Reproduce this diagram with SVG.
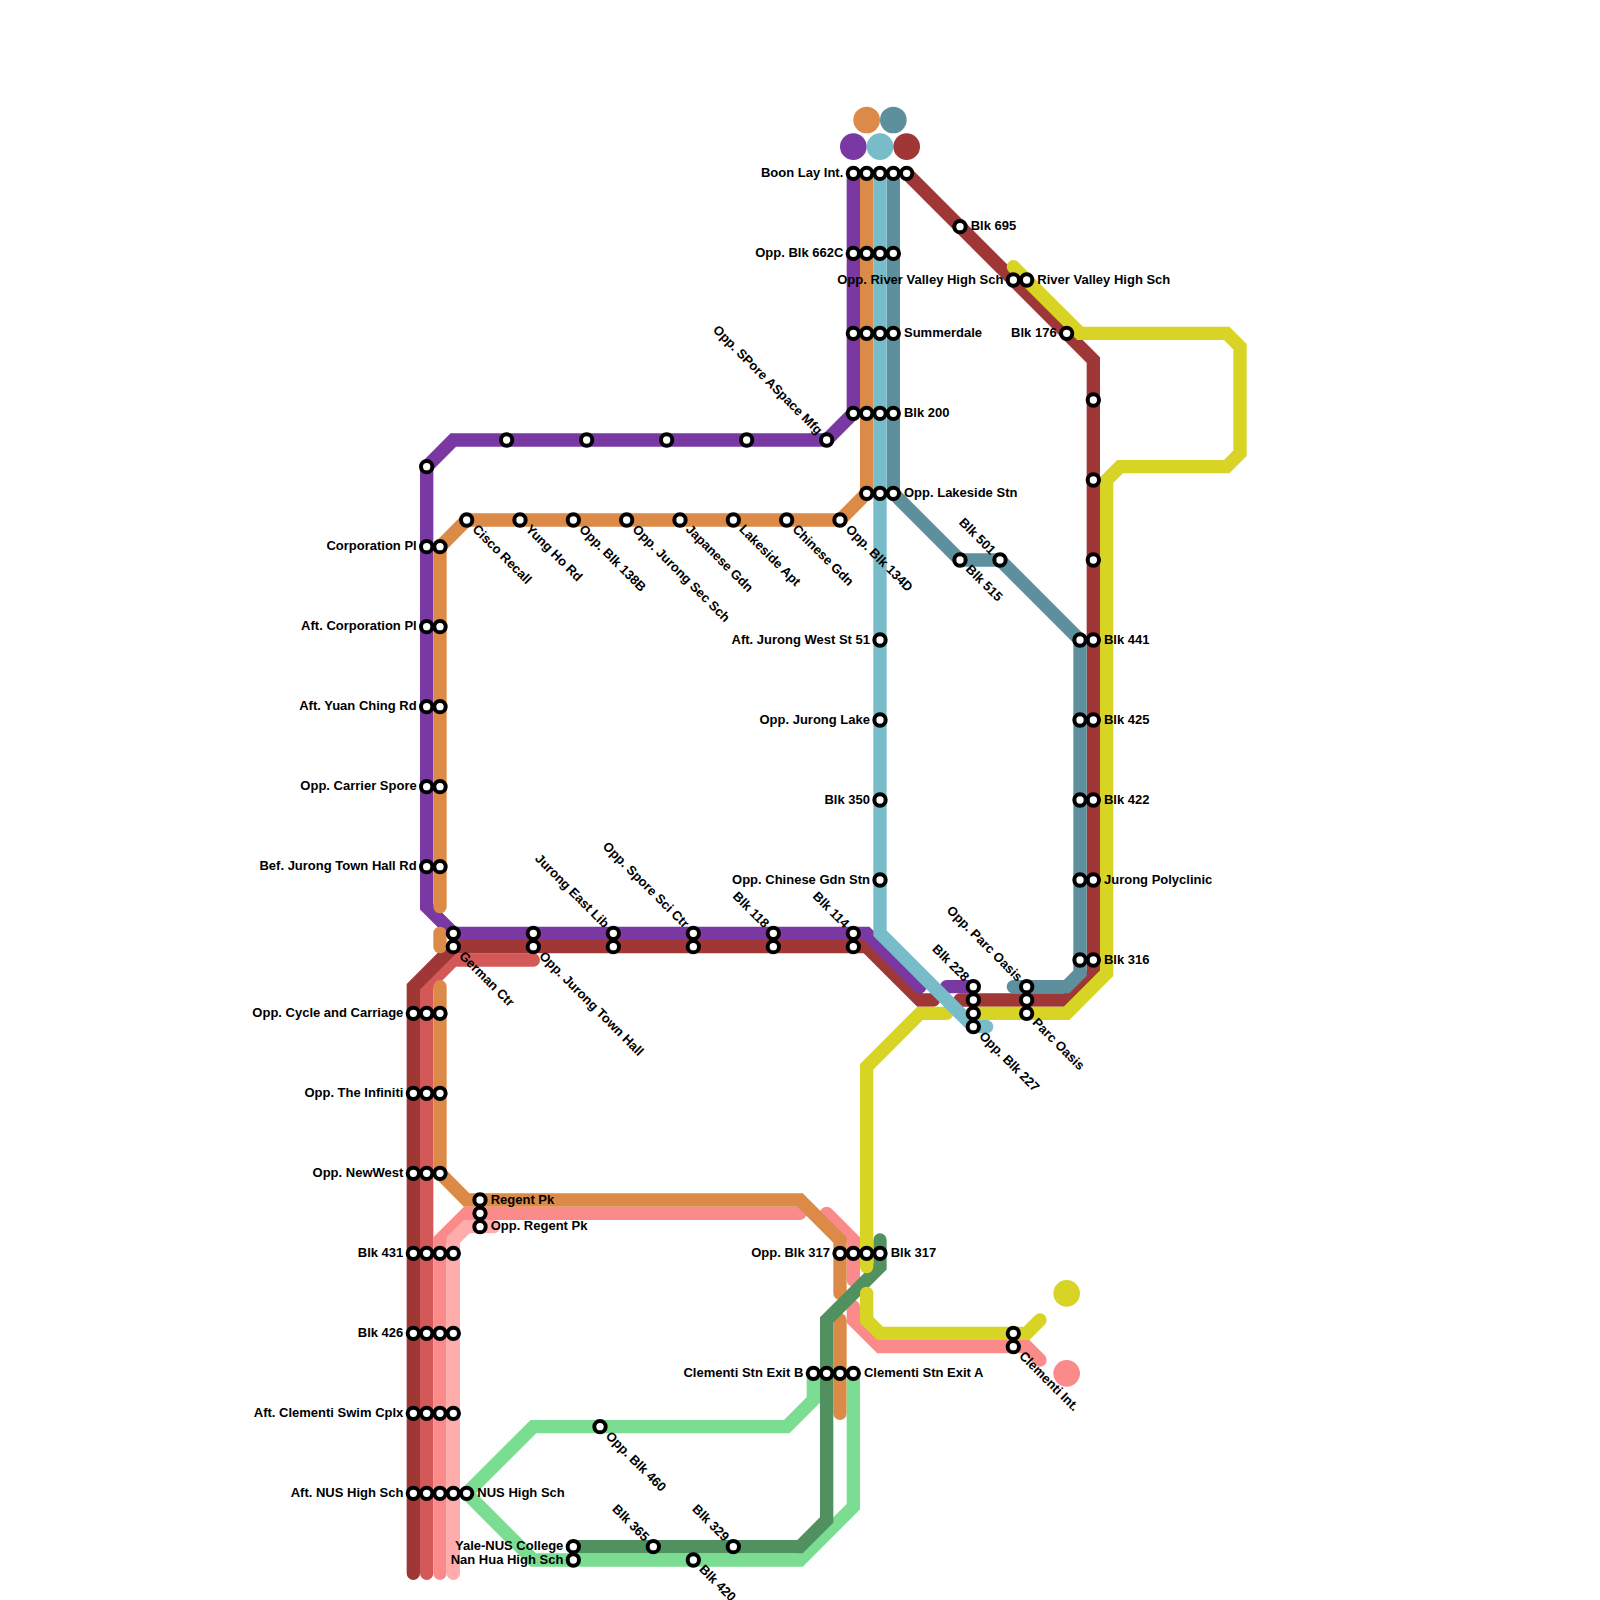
<svg xmlns="http://www.w3.org/2000/svg" width="1600" height="1600" viewBox="0 0 1600 1600">
<defs>
<style>
text{font-family:"Liberation Sans",Arial,sans-serif;font-weight:bold;font-size:13px;fill:#000}
.ln{fill:none;stroke-width:1;stroke-linecap:round;stroke-linejoin:miter}
.st{fill:#fff;stroke:#000;stroke-width:4}
.l{text-anchor:end}
.pu{stroke:#7a39a2}.or{stroke:#dc8a47}.cy{stroke:#78bcc9}.te{stroke:#5d909c}.re{stroke:#9f3737}.lr{stroke:#d35858}.pi{stroke:#fb8b8b}.lp{stroke:#ffacac}.lg{stroke:#7bdd91}.dg{stroke:#519160}.ye{stroke:#d8d425}
</style>
<circle id="s" class="st" r="5.67"/>
</defs>
<rect width="1600" height="1600" fill="#fff"/>
<g id="connectors" transform="scale(13.33333)">
<polyline class="ln lr" points="32,118 32,74 34,72 40,72"/>
<polyline class="ln re" points="31,118 31,74 34,71 65,71 69,75 70,75"/>
<polyline class="ln re" points="72,75 80,75 82,73 82,27 68,13"/>
<polyline class="ln pi" points="33,118 33,93 35,91 60,91"/>
<polyline class="ln lp" points="34,118 34,93 35,92 37,92"/>
<polyline class="ln pi" points="62,91 64,93 64,96"/>
<polyline class="ln pi" points="64,98 64,99 66,101 77,101 78,102"/>
<polyline class="ln pu" points="64,13 64,31 62,33 34,33 32,35 32,68 34,70 65,70 69,74"/>
<polyline class="ln pu" points="71,74 73,74"/>
<polyline class="ln or" points="65,13 65,37 63,39 35,39 33,41 33,68"/>
<polyline class="ln or" points="33,70 33,71"/>
<polyline class="ln or" points="33,74 33,88 35,90 60,90 63,93 63,97"/>
<polyline class="ln or" points="63,99 63,106"/>
<polyline class="ln te" points="67,13 67,37 72,42 75,42 81,48 81,73 80,74 76,74"/>
<polyline class="ln lg" points="61,103 61,105 59,107 40,107 35,112 40,117 60,117 64,113 64,103"/>
<polyline class="ln dg" points="43,116 60,116 62,114 62,99 66,95 66,93"/>
<polyline class="ln ye" points="76,20 81,25 92,25 93,26 93,34 92,35 84,35 83,36 83,73 80,76 73,76"/>
<polyline class="ln ye" points="71,76 69,76 65,80 65,95"/>
<polyline class="ln ye" points="65,97 65,99 66,100 77,100 78,99"/>
<polyline class="ln cy" points="66,13 66,70 73,77 74,77"/>
</g>
<g id="legend">
<circle cx="866.67" cy="120" r="13.33" fill="#dc8a47"/>
<circle cx="893.33" cy="120" r="13.33" fill="#5d909c"/>
<circle cx="853.33" cy="146.67" r="13.33" fill="#7a39a2"/>
<circle cx="880" cy="146.67" r="13.33" fill="#78bcc9"/>
<circle cx="906.67" cy="146.67" r="13.33" fill="#9f3737"/>
<circle cx="1066.67" cy="1293.33" r="13.33" fill="#d8d425"/>
<circle cx="1066.67" cy="1373.33" r="13.33" fill="#fb8b8b"/>
</g>
<g id="n64-13" transform="translate(853.33,173.33)"><use href="#s"/><text class="l" x="-10" y="3.5">Boon Lay Int.</text></g>
<g id="n65-13" transform="translate(866.67,173.33)"><use href="#s"/></g>
<g id="n66-13" transform="translate(880,173.33)"><use href="#s"/></g>
<g id="n67-13" transform="translate(893.33,173.33)"><use href="#s"/></g>
<g id="n68-13" transform="translate(906.67,173.33)"><use href="#s"/></g>
<g id="n64-19" transform="translate(853.33,253.33)"><use href="#s"/><text class="l" x="-10" y="3.5">Opp. Blk 662C</text></g>
<g id="n65-19" transform="translate(866.67,253.33)"><use href="#s"/></g>
<g id="n66-19" transform="translate(880,253.33)"><use href="#s"/></g>
<g id="n67-19" transform="translate(893.33,253.33)"><use href="#s"/></g>
<g id="n64-25" transform="translate(853.33,333.33)"><use href="#s"/></g>
<g id="n65-25" transform="translate(866.67,333.33)"><use href="#s"/></g>
<g id="n66-25" transform="translate(880,333.33)"><use href="#s"/></g>
<g id="n67-25" transform="translate(893.33,333.33)"><use href="#s"/><text x="10.67" y="3.5">Summerdale</text></g>
<g id="n64-31" transform="translate(853.33,413.33)"><use href="#s"/></g>
<g id="n65-31" transform="translate(866.67,413.33)"><use href="#s"/></g>
<g id="n66-31" transform="translate(880,413.33)"><use href="#s"/></g>
<g id="n67-31" transform="translate(893.33,413.33)"><use href="#s"/><text x="10.67" y="3.5">Blk 200</text></g>
<g id="n65-37" transform="translate(866.67,493.33)"><use href="#s"/></g>
<g id="n66-37" transform="translate(880,493.33)"><use href="#s"/></g>
<g id="n67-37" transform="translate(893.33,493.33)"><use href="#s"/><text x="10.67" y="3.5">Opp. Lakeside Stn</text></g>
<g id="n72-17" transform="translate(960,226.67)"><use href="#s"/><text x="10.67" y="3.5">Blk 695</text></g>
<g id="n76-21" transform="translate(1013.33,280)"><use href="#s"/><text class="l" x="-10" y="3.5">Opp. River Valley High Sch</text></g>
<g id="n77-21" transform="translate(1026.67,280)"><use href="#s"/><text x="10.67" y="3.5">River Valley High Sch</text></g>
<g id="n80-25" transform="translate(1066.67,333.33)"><use href="#s"/><text class="l" x="-10" y="3.5">Blk 176</text></g>
<g id="n82-30" transform="translate(1093.33,400)"><use href="#s"/></g>
<g id="n82-36" transform="translate(1093.33,480)"><use href="#s"/></g>
<g id="n82-42" transform="translate(1093.33,560)"><use href="#s"/></g>
<g id="n81-48" transform="translate(1080,640)"><use href="#s"/></g>
<g id="n82-48" transform="translate(1093.33,640)"><use href="#s"/><text x="10.67" y="3.5">Blk 441</text></g>
<g id="n81-54" transform="translate(1080,720)"><use href="#s"/></g>
<g id="n82-54" transform="translate(1093.33,720)"><use href="#s"/><text x="10.67" y="3.5">Blk 425</text></g>
<g id="n81-60" transform="translate(1080,800)"><use href="#s"/></g>
<g id="n82-60" transform="translate(1093.33,800)"><use href="#s"/><text x="10.67" y="3.5">Blk 422</text></g>
<g id="n81-66" transform="translate(1080,880)"><use href="#s"/></g>
<g id="n82-66" transform="translate(1093.33,880)"><use href="#s"/><text x="10.67" y="3.5">Jurong Polyclinic</text></g>
<g id="n81-72" transform="translate(1080,960)"><use href="#s"/></g>
<g id="n82-72" transform="translate(1093.33,960)"><use href="#s"/><text x="10.67" y="3.5">Blk 316</text></g>
<g id="n72-42" transform="translate(960,560)"><use href="#s"/><text transform="rotate(45)" x="10.67" y="3.5">Blk 515</text></g>
<g id="n75-42" transform="translate(1000,560)"><use href="#s"/><text class="l" transform="rotate(45)" x="-10" y="3.5">Blk 501</text></g>
<g id="n62-33" transform="translate(826.67,440)"><use href="#s"/><text class="l" transform="rotate(45)" x="-10" y="3.5">Opp. SPore ASpace Mfg</text></g>
<g id="n56-33" transform="translate(746.67,440)"><use href="#s"/></g>
<g id="n50-33" transform="translate(666.67,440)"><use href="#s"/></g>
<g id="n44-33" transform="translate(586.67,440)"><use href="#s"/></g>
<g id="n38-33" transform="translate(506.67,440)"><use href="#s"/></g>
<g id="n32-35" transform="translate(426.67,466.67)"><use href="#s"/></g>
<g id="n35-39" transform="translate(466.67,520)"><use href="#s"/><text transform="rotate(45)" x="10.67" y="3.5">Cisco Recall</text></g>
<g id="n39-39" transform="translate(520,520)"><use href="#s"/><text transform="rotate(45)" x="10.67" y="3.5">Yung Ho Rd</text></g>
<g id="n43-39" transform="translate(573.33,520)"><use href="#s"/><text transform="rotate(45)" x="10.67" y="3.5">Opp. Blk 138B</text></g>
<g id="n47-39" transform="translate(626.67,520)"><use href="#s"/><text transform="rotate(45)" x="10.67" y="3.5">Opp. Jurong Sec Sch</text></g>
<g id="n51-39" transform="translate(680,520)"><use href="#s"/><text transform="rotate(45)" x="10.67" y="3.5">Japanese Gdn</text></g>
<g id="n55-39" transform="translate(733.33,520)"><use href="#s"/><text transform="rotate(45)" x="10.67" y="3.5">Lakeside Apt</text></g>
<g id="n59-39" transform="translate(786.67,520)"><use href="#s"/><text transform="rotate(45)" x="10.67" y="3.5">Chinese Gdn</text></g>
<g id="n63-39" transform="translate(840,520)"><use href="#s"/><text transform="rotate(45)" x="10.67" y="3.5">Opp. Blk 134D</text></g>
<g id="n32-41" transform="translate(426.67,546.67)"><use href="#s"/><text class="l" x="-10" y="3.5">Corporation Pl</text></g>
<g id="n33-41" transform="translate(440,546.67)"><use href="#s"/></g>
<g id="n32-47" transform="translate(426.67,626.67)"><use href="#s"/><text class="l" x="-10" y="3.5">Aft. Corporation Pl</text></g>
<g id="n33-47" transform="translate(440,626.67)"><use href="#s"/></g>
<g id="n32-53" transform="translate(426.67,706.67)"><use href="#s"/><text class="l" x="-10" y="3.5">Aft. Yuan Ching Rd</text></g>
<g id="n33-53" transform="translate(440,706.67)"><use href="#s"/></g>
<g id="n32-59" transform="translate(426.67,786.67)"><use href="#s"/><text class="l" x="-10" y="3.5">Opp. Carrier Spore</text></g>
<g id="n33-59" transform="translate(440,786.67)"><use href="#s"/></g>
<g id="n32-65" transform="translate(426.67,866.67)"><use href="#s"/><text class="l" x="-10" y="3.5">Bef. Jurong Town Hall Rd</text></g>
<g id="n33-65" transform="translate(440,866.67)"><use href="#s"/></g>
<g id="n66-48" transform="translate(880,640)"><use href="#s"/><text class="l" x="-10" y="3.5">Aft. Jurong West St 51</text></g>
<g id="n66-54" transform="translate(880,720)"><use href="#s"/><text class="l" x="-10" y="3.5">Opp. Jurong Lake</text></g>
<g id="n66-60" transform="translate(880,800)"><use href="#s"/><text class="l" x="-10" y="3.5">Blk 350</text></g>
<g id="n66-66" transform="translate(880,880)"><use href="#s"/><text class="l" x="-10" y="3.5">Opp. Chinese Gdn Stn</text></g>
<g id="n34-70" transform="translate(453.33,933.33)"><use href="#s"/></g>
<g id="n34-71" transform="translate(453.33,946.67)"><use href="#s"/><text transform="rotate(45)" x="10.67" y="3.5">German Ctr</text></g>
<g id="n40-70" transform="translate(533.33,933.33)"><use href="#s"/></g>
<g id="n40-71" transform="translate(533.33,946.67)"><use href="#s"/><text transform="rotate(45)" x="10.67" y="3.5">Opp. Jurong Town Hall</text></g>
<g id="n46-70" transform="translate(613.33,933.33)"><use href="#s"/><text class="l" transform="rotate(45)" x="-10" y="3.5">Jurong East Lib</text></g>
<g id="n46-71" transform="translate(613.33,946.67)"><use href="#s"/></g>
<g id="n52-70" transform="translate(693.33,933.33)"><use href="#s"/><text class="l" transform="rotate(45)" x="-10" y="3.5">Opp. Spore Sci Ctr</text></g>
<g id="n52-71" transform="translate(693.33,946.67)"><use href="#s"/></g>
<g id="n58-70" transform="translate(773.33,933.33)"><use href="#s"/><text class="l" transform="rotate(45)" x="-10" y="3.5">Blk 118</text></g>
<g id="n58-71" transform="translate(773.33,946.67)"><use href="#s"/></g>
<g id="n64-70" transform="translate(853.33,933.33)"><use href="#s"/><text class="l" transform="rotate(45)" x="-10" y="3.5">Blk 114</text></g>
<g id="n64-71" transform="translate(853.33,946.67)"><use href="#s"/></g>
<g id="n73-74" transform="translate(973.33,986.67)"><use href="#s"/><text class="l" transform="rotate(45)" x="-10" y="3.5">Blk 228</text></g>
<g id="n73-75" transform="translate(973.33,1000)"><use href="#s"/></g>
<g id="n73-76" transform="translate(973.33,1013.33)"><use href="#s"/></g>
<g id="n73-77" transform="translate(973.33,1026.67)"><use href="#s"/><text transform="rotate(45)" x="10.67" y="3.5">Opp. Blk 227</text></g>
<g id="n77-74" transform="translate(1026.67,986.67)"><use href="#s"/><text class="l" transform="rotate(45)" x="-10" y="3.5">Opp. Parc Oasis</text></g>
<g id="n77-75" transform="translate(1026.67,1000)"><use href="#s"/></g>
<g id="n77-76" transform="translate(1026.67,1013.33)"><use href="#s"/><text transform="rotate(45)" x="10.67" y="3.5">Parc Oasis</text></g>
<g id="n31-76" transform="translate(413.33,1013.33)"><use href="#s"/><text class="l" x="-10" y="3.5">Opp. Cycle and Carriage</text></g>
<g id="n32-76" transform="translate(426.67,1013.33)"><use href="#s"/></g>
<g id="n33-76" transform="translate(440,1013.33)"><use href="#s"/></g>
<g id="n31-82" transform="translate(413.33,1093.33)"><use href="#s"/><text class="l" x="-10" y="3.5">Opp. The Infiniti</text></g>
<g id="n32-82" transform="translate(426.67,1093.33)"><use href="#s"/></g>
<g id="n33-82" transform="translate(440,1093.33)"><use href="#s"/></g>
<g id="n31-88" transform="translate(413.33,1173.33)"><use href="#s"/><text class="l" x="-10" y="3.5">Opp. NewWest</text></g>
<g id="n32-88" transform="translate(426.67,1173.33)"><use href="#s"/></g>
<g id="n33-88" transform="translate(440,1173.33)"><use href="#s"/></g>
<g id="n31-94" transform="translate(413.33,1253.33)"><use href="#s"/><text class="l" x="-10" y="3.5">Blk 431</text></g>
<g id="n32-94" transform="translate(426.67,1253.33)"><use href="#s"/></g>
<g id="n33-94" transform="translate(440,1253.33)"><use href="#s"/></g>
<g id="n34-94" transform="translate(453.33,1253.33)"><use href="#s"/></g>
<g id="n31-100" transform="translate(413.33,1333.33)"><use href="#s"/><text class="l" x="-10" y="3.5">Blk 426</text></g>
<g id="n32-100" transform="translate(426.67,1333.33)"><use href="#s"/></g>
<g id="n33-100" transform="translate(440,1333.33)"><use href="#s"/></g>
<g id="n34-100" transform="translate(453.33,1333.33)"><use href="#s"/></g>
<g id="n31-106" transform="translate(413.33,1413.33)"><use href="#s"/><text class="l" x="-10" y="3.5">Aft. Clementi Swim Cplx</text></g>
<g id="n32-106" transform="translate(426.67,1413.33)"><use href="#s"/></g>
<g id="n33-106" transform="translate(440,1413.33)"><use href="#s"/></g>
<g id="n34-106" transform="translate(453.33,1413.33)"><use href="#s"/></g>
<g id="n31-112" transform="translate(413.33,1493.33)"><use href="#s"/><text class="l" x="-10" y="3.5">Aft. NUS High Sch</text></g>
<g id="n32-112" transform="translate(426.67,1493.33)"><use href="#s"/></g>
<g id="n33-112" transform="translate(440,1493.33)"><use href="#s"/></g>
<g id="n34-112" transform="translate(453.33,1493.33)"><use href="#s"/></g>
<g id="n35-112" transform="translate(466.67,1493.33)"><use href="#s"/><text x="10.67" y="3.5">NUS High Sch</text></g>
<g id="n36-90" transform="translate(480,1200)"><use href="#s"/><text x="10.67" y="3.5">Regent Pk</text></g>
<g id="n36-91" transform="translate(480,1213.33)"><use href="#s"/></g>
<g id="n36-92" transform="translate(480,1226.67)"><use href="#s"/><text x="10.67" y="3.5">Opp. Regent Pk</text></g>
<g id="n63-94" transform="translate(840,1253.33)"><use href="#s"/><text class="l" x="-10" y="3.5">Opp. Blk 317</text></g>
<g id="n64-94" transform="translate(853.33,1253.33)"><use href="#s"/></g>
<g id="n65-94" transform="translate(866.67,1253.33)"><use href="#s"/></g>
<g id="n66-94" transform="translate(880,1253.33)"><use href="#s"/><text x="10.67" y="3.5">Blk 317</text></g>
<g id="n76-100" transform="translate(1013.33,1333.33)"><use href="#s"/></g>
<g id="n76-101" transform="translate(1013.33,1346.67)"><use href="#s"/><text transform="rotate(45)" x="10.67" y="3.5">Clementi Int.</text></g>
<g id="n61-103" transform="translate(813.33,1373.33)"><use href="#s"/><text class="l" x="-10" y="3.5">Clementi Stn Exit B</text></g>
<g id="n62-103" transform="translate(826.67,1373.33)"><use href="#s"/></g>
<g id="n63-103" transform="translate(840,1373.33)"><use href="#s"/></g>
<g id="n64-103" transform="translate(853.33,1373.33)"><use href="#s"/><text x="10.67" y="3.5">Clementi Stn Exit A</text></g>
<g id="n45-107" transform="translate(600,1426.67)"><use href="#s"/><text transform="rotate(45)" x="10.67" y="3.5">Opp. Blk 460</text></g>
<g id="n43-116" transform="translate(573.33,1546.67)"><use href="#s"/><text class="l" x="-10" y="3.5">Yale-NUS College</text></g>
<g id="n43-117" transform="translate(573.33,1560)"><use href="#s"/><text class="l" x="-10" y="3.5">Nan Hua High Sch</text></g>
<g id="n49-116" transform="translate(653.33,1546.67)"><use href="#s"/><text class="l" transform="rotate(45)" x="-10" y="3.5">Blk 365</text></g>
<g id="n55-116" transform="translate(733.33,1546.67)"><use href="#s"/><text class="l" transform="rotate(45)" x="-10" y="3.5">Blk 329</text></g>
<g id="n52-117" transform="translate(693.33,1560)"><use href="#s"/><text transform="rotate(45)" x="10.67" y="3.5">Blk 420</text></g>
</svg>
